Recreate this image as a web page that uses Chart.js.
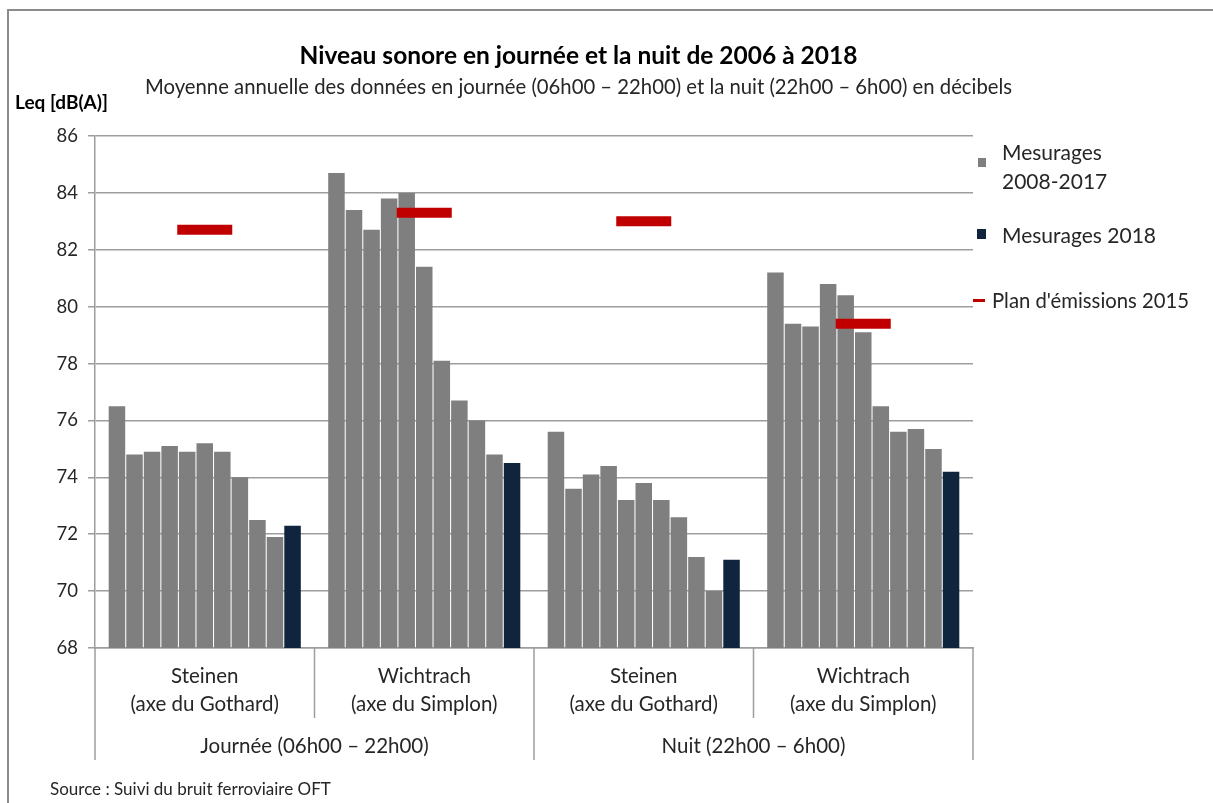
<!DOCTYPE html>
<html lang="fr">
<head>
<meta charset="utf-8">
<title>Niveau sonore en journée et la nuit</title>
<script src="https://cdn.jsdelivr.net/npm/chart.js@4/dist/chart.umd.min.js"></script>
<style>
    html, body { margin: 0; padding: 0; background: #fff; }
    body { font-family: Lato, "Open Sans", sans-serif; color: #262626; }
    .wrap { position: relative; width: 1213px; height: 803px; overflow: hidden; }
    .frame { position: absolute; left: 7px; top: 9px; right: -10px; bottom: -10px;
             border-left: 2px solid #8c8c8c; border-top: 2px solid #8c8c8c; }
    canvas { position: absolute; left: 0; top: 0; }
    .txt { position: absolute; white-space: nowrap; line-height: 1; }
    .title { left: 0; width: 1157px; text-align: center; top: 43px; font-size: 24.5px; font-weight: 700; color: #000; }
    .subtitle { left: 0; width: 1157px; text-align: center; top: 76px; font-size: 20.3px; }
    .unit { left: 15px; top: 92px; font-size: 19px; font-weight: 700; color: #000; }
    .source { left: 50px; top: 780px; font-size: 17px; }
    .legend .box { position: absolute; }
    .legend .lbl { position: absolute; font-size: 21px; line-height: 29px; white-space: nowrap; }
</style>
</head>
<body>
<div class="wrap">
    <div class="frame"></div>
    <canvas id="noiseChart" width="1213" height="803"></canvas>
    <div class="txt title">Niveau sonore en journée et la nuit de 2006 à 2018</div>
    <div class="txt subtitle">Moyenne annuelle des données en journée (06h00 – 22h00) et la nuit (22h00 – 6h00) en décibels</div>
    <div class="txt unit">Leq [dB(A)]</div>
    <div class="legend">
        <div class="box" style="left:978px; top:158px; width:8px; height:9px; background:#7f7f7f;"></div>
        <div class="lbl" style="left:1002px; top:137px;">Mesurages<br>2008-2017</div>
        <div class="box" style="left:977px; top:229px; width:9px; height:10px; background:#10243e;"></div>
        <div class="lbl" style="left:1002px; top:220px;">Mesurages 2018</div>
        <div class="box" style="left:973px; top:299px; width:12px; height:3px; background:#c00000;"></div>
        <div class="lbl" style="left:992px; top:286px; font-size:20.3px;">Plan d'émissions 2015</div>
    </div>
    <div class="txt source">Source : Suivi du bruit ferroviaire OFT</div>
</div>

<script>
// Sites along the x axis, grouped by period
const sites = [
    ['Steinen', '(axe du Gothard)'],
    ['Wichtrach', '(axe du Simplon)'],
    ['Steinen', '(axe du Gothard)'],
    ['Wichtrach', '(axe du Simplon)']
];
const periodes = ['Journée (06h00 – 22h00)', 'Nuit (22h00 – 6h00)'];

// Annual means 2008-2017, one value per year
const years = ['2008', '2009', '2010', '2011', '2012', '2013', '2014', '2015', '2016', '2017'];
const steinenJour = [76.5, 74.8, 74.9, 75.1, 74.9, 75.2, 74.9, 74.0, 72.5, 71.9];
const wichtrachJour = [84.7, 83.4, 82.7, 83.8, 84.0, 81.4, 78.1, 76.7, 76.0, 74.8];
const steinenNuit = [75.6, 73.6, 74.1, 74.4, 73.2, 73.8, 73.2, 72.6, 71.2, 70.0];
const wichtrachNuit = [81.2, 79.4, 79.3, 80.8, 80.4, 79.1, 76.5, 75.6, 75.7, 75.0];

// 2018 measurements and 2015 emission plan, one value per site
const mesures2018 = [72.3, 74.5, 71.1, 74.2];
const plan2015 = [82.7, 83.3, 83.0, 79.4];

const yTicks = [68, 70, 72, 74, 76, 78, 80, 82, 84, 86];

const GRAY = '#7f7f7f';
const NAVY = '#10243e';
const RED = '#c00000';
const GRID = '#9d9d9d';
const FONT = 'Lato, "Open Sans", sans-serif';

const datasets = years.map((year, i) => ({
    label: 'Mesurages ' + year,
    data: [steinenJour[i], wichtrachJour[i], steinenNuit[i], wichtrachNuit[i]],
    backgroundColor: GRAY,
    categoryPercentage: 0.88,
    barPercentage: 0.94
}));

datasets.push({
    label: 'Mesurages 2018',
    data: mesures2018,
    backgroundColor: NAVY,
    categoryPercentage: 0.88,
    barPercentage: 0.94
});

datasets.push({
    type: 'line',
    label: "Plan d'émissions 2015",
    data: plan2015,
    showLine: false,
    pointStyle: 'line',
    pointRadius: 27.5,
    pointHoverRadius: 27.5,
    pointBorderWidth: 10,
    pointHoverBorderWidth: 10,
    borderColor: RED,
    backgroundColor: RED,
    order: -1
});

// Separators and period labels under the site labels
const categoryBands = {
    id: 'categoryBands',
    afterDraw(chart) {
        const { ctx, chartArea } = chart;
        const x = chart.scales.x;
        const edge = (i) => (x.getPixelForValue(i) + x.getPixelForValue(i + 1)) / 2;
        const bottom = chartArea.bottom;

        ctx.save();
        ctx.strokeStyle = GRID;
        ctx.lineWidth = 1.5;
        const lines = [
            [chartArea.left, 760],
            [edge(0), 718],
            [edge(1), 760],
            [edge(2), 718],
            [chartArea.right, 760]
        ];
        lines.forEach(([px, end]) => {
            ctx.beginPath();
            ctx.moveTo(px, bottom);
            ctx.lineTo(px, end);
            ctx.stroke();
        });

        ctx.fillStyle = '#262626';
        ctx.font = '20.5px ' + FONT;
        ctx.textAlign = 'center';
        ctx.textBaseline = 'middle';
        ctx.fillText(periodes[0], (chartArea.left + edge(1)) / 2, 746);
        ctx.fillText(periodes[1], (edge(1) + chartArea.right) / 2, 746);
        ctx.restore();
    }
};

new Chart(document.getElementById('noiseChart'), {
    type: 'bar',
    data: { labels: sites, datasets },
    options: {
        responsive: false,
        animation: false,
        events: [],
        layout: { padding: { top: 136, right: 240, left: 0, bottom: 0 } },
        plugins: {
            legend: { display: false },
            tooltip: { enabled: false }
        },
        scales: {
            x: {
                grid: { display: false },
                border: { display: true, color: GRID, width: 1.5 },
                ticks: {
                    color: '#262626',
                    padding: 6,
                    maxRotation: 0,
                    font: { family: FONT, size: 20.5, lineHeight: 1.37 }
                },
                afterFit(scale) { scale.height = 155; }
            },
            y: {
                min: 68,
                max: 86,
                afterBuildTicks(scale) { scale.ticks = yTicks.map(v => ({ value: v })); },
                grid: { color: GRID, lineWidth: 1.5, tickLength: 7 },
                border: { display: true, color: GRID, width: 1.5 },
                ticks: {
                    color: '#262626',
                    padding: 10,
                    font: { family: FONT, size: 18.5 }
                },
                afterFit(scale) { scale.width = 95; }
            }
        }
    },
    plugins: [categoryBands]
});
</script>
</body>
</html>
